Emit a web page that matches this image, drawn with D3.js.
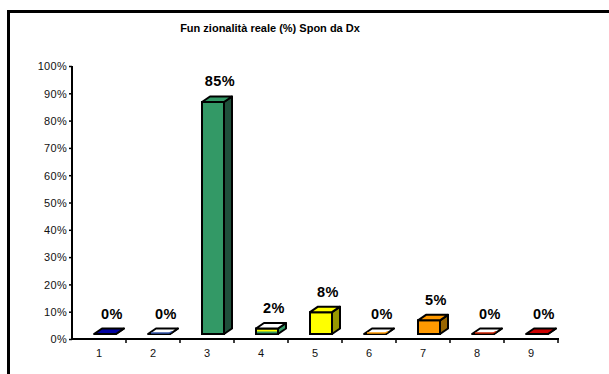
<!DOCTYPE html>
<html>
<head>
<meta charset="utf-8">
<script src="https://cdn.jsdelivr.net/npm/d3@7"></script>
<style>
  html, body { margin: 0; padding: 0; background: #fff; }
  svg { display: block; font-family: "Liberation Sans", Arial, sans-serif; }
</style>
</head>
<body>
<svg id="chart" width="609" height="374"></svg>
<script>
// Category labels and their values (percent)
const categories = ["1", "2", "3", "4", "5", "6", "7", "8", "9"];
const values = [0, 0, 85, 2, 8, 0, 5, 0, 0];
const valueLabels = ["0%", "0%", "85%", "2%", "8%", "0%", "5%", "0%", "0%"];
const yTicks = [0, 10, 20, 30, 40, 50, 60, 70, 80, 90, 100];

// Face colours for each column: front, side, top, and an accent along the base
const frontColors = ["#0000a0", "#ffffff", "#339966", "#ffff00", "#ffff00", "#ffffff", "#ff9900", "#ffffff", "#cc0000"];
const sideColors  = ["#000060", "#2e8b57", "#1f4f3a", "#339966", "#999900", "#ff9900", "#996600", "#ff6600", "#800000"];
const topColors   = ["#0000a0", "#ffffff", "#339966", "#ffffff", "#ffff00", "#ffffff", "#ff9900", "#ffffff", "#cc0000"];
const accentColors = [null, "#3355aa", null, "#339966", null, "#ff9900", null, "#cc2200", null];

const svg = d3.select("#chart");

// Outer frame
svg.append("rect")
  .attr("x", 8.5).attr("y", 11.5)
  .attr("width", 640).attr("height", 400)
  .attr("fill", "none").attr("stroke", "#000").attr("stroke-width", 3);

// Title
svg.append("text")
  .attr("x", 270).attr("y", 32)
  .attr("text-anchor", "middle")
  .attr("font-size", 11).attr("font-weight", "bold")
  .text("Fun zionalità reale (%) Spon da Dx");

const x = d3.scaleBand().domain(categories).range([72, 558]).padding(0);
const y = d3.scaleLinear().domain([0, 100]).range([339, 66]);

// 3D column geometry
const depthX = 8, depthY = -5.5, floorShift = -5, faceW = 22, faceOffset = -5;

// Axes
const yAxis = d3.axisLeft(y).tickValues(yTicks).tickFormat(d => d + "%").tickSize(3).tickPadding(2);
const gy = svg.append("g").attr("transform", "translate(72,0)").call(yAxis);
gy.select(".domain").attr("stroke-width", 2).attr("d", "M0,66V340");
gy.selectAll(".tick line").attr("stroke-width", 1.5);
gy.selectAll(".tick text").attr("font-size", 11).attr("fill", "#111").attr("letter-spacing", 0.3)
  .attr("dy", "0.35em");

const xAxis = d3.axisBottom(x).tickSize(0).tickPadding(10);
const gx = svg.append("g").attr("transform", "translate(0,339)").call(xAxis);
gx.select(".domain").attr("stroke-width", 2).attr("d", "M71,0H559");
gx.selectAll(".tick text").attr("font-size", 11).attr("fill", "#111");

// Boundary tick marks between categories
const bounds = categories.map(c => x(c)).concat([x(categories[categories.length - 1]) + x.bandwidth()]);
svg.append("g").selectAll("line").data(bounds.slice(1)).join("line")
  .attr("x1", d => d).attr("x2", d => d)
  .attr("y1", 339).attr("y2", 343)
  .attr("stroke", "#000").attr("stroke-width", 1.5);

// Columns
const bars = svg.append("g").selectAll("g").data(categories).join("g");

bars.each(function(c, i) {
  const g = d3.select(this);
  const v = values[i];
  const x0 = x(c) + x.bandwidth() / 2 + faceOffset;
  const x1 = x0 + faceW;
  const yb = y(0) + floorShift;
  const yt = y(v) + floorShift;
  const sw = 2;

  // side face
  g.append("path")
    .attr("d", `M${x1},${yb}L${x1 + depthX},${yb + depthY}L${x1 + depthX},${yt + depthY}L${x1},${yt}Z`)
    .attr("fill", sideColors[i]).attr("stroke", "#000").attr("stroke-width", sw).attr("stroke-linejoin", "round");
  // front face
  if (yb - yt > 0.5) {
    g.append("path")
      .attr("d", `M${x0},${yb}L${x1},${yb}L${x1},${yt}L${x0},${yt}Z`)
      .attr("fill", frontColors[i]).attr("stroke", "#000").attr("stroke-width", sw);
    if (accentColors[i]) {
      g.append("rect")
        .attr("x", x0 + 1).attr("y", yb - 2.5).attr("width", faceW - 2).attr("height", 1.8)
        .attr("fill", accentColors[i]);
    }
  }
  // top face
  g.append("path")
    .attr("d", `M${x0},${yt}L${x1},${yt}L${x1 + depthX},${yt + depthY}L${x0 + depthX},${yt + depthY}Z`)
    .attr("fill", topColors[i]).attr("stroke", "#000").attr("stroke-width", sw).attr("stroke-linejoin", "round");
  if (accentColors[i] && yb - yt <= 0.5) {
    g.append("path")
      .attr("d", `M${x0 + 3},${yt - 1}L${x1 - 1},${yt - 1}L${x1 + 2},${yt - 2.5}`)
      .attr("fill", "none").attr("stroke", accentColors[i]).attr("stroke-width", 1.3);
  }

  // value label
  g.append("text")
    .attr("x", x0 + (faceW + depthX) / 2 + 3)
    .attr("y", yt + depthY - 10)
    .attr("text-anchor", "middle")
    .attr("font-size", 14.5).attr("font-weight", "bold")
    .attr("letter-spacing", 0.5)
    .text(valueLabels[i]);
});
</script>
</body>
</html>
